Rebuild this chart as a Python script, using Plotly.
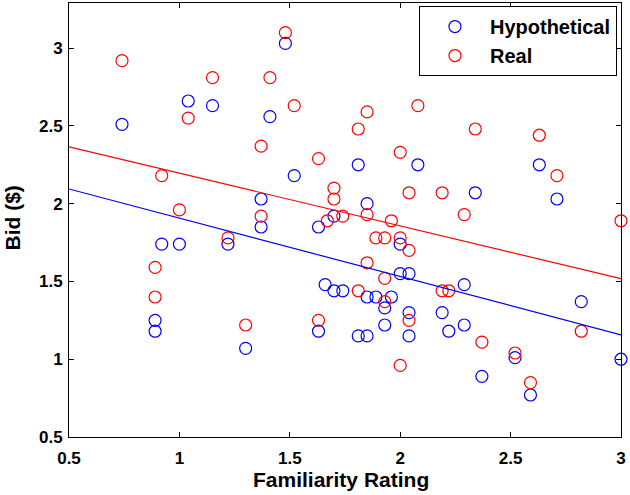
import numpy as np
import plotly.graph_objects as go

# Hypothetical bids
hyp_x = [0.74, 0.89, 0.89, 0.92, 1.00, 1.04, 1.15, 1.22, 1.30, 1.37, 1.37, 1.41, 1.48, 1.52,
         1.63, 1.63, 1.66, 1.70, 1.70, 1.74, 1.81, 1.81, 1.85, 1.85, 1.85, 1.89, 1.93, 1.93,
         1.96, 2.00, 2.00, 2.04, 2.04, 2.04, 2.08, 2.19, 2.22, 2.29, 2.29, 2.34, 2.37, 2.52,
         2.59, 2.63, 2.71, 2.82, 3.00]
hyp_y = [2.51, 1.25, 1.18, 1.74, 1.74, 2.66, 2.63, 1.74, 1.07, 2.03, 1.85, 2.56, 3.03, 2.18,
         1.85, 1.18, 1.48, 1.92, 1.44, 1.44, 2.25, 1.15, 2.00, 1.40, 1.15, 1.40, 1.33, 1.22,
         1.40, 1.74, 1.55, 1.55, 1.30, 1.15, 2.25, 1.30, 1.18, 1.48, 1.22, 2.07, 0.89, 1.01,
         0.77, 2.25, 2.03, 1.37, 1.00]

# Real bids
real_x = [0.74, 0.89, 0.89, 0.92, 1.00, 1.04, 1.15, 1.22, 1.30, 1.37, 1.37, 1.41, 1.48, 1.52,
          1.63, 1.63, 1.67, 1.70, 1.70, 1.74, 1.81, 1.81, 1.85, 1.85, 1.85, 1.89, 1.93, 1.93,
          1.93, 1.96, 2.00, 2.00, 2.00, 2.04, 2.04, 2.04, 2.08, 2.19, 2.22, 2.19, 2.29, 2.34,
          2.37, 2.52, 2.59, 2.63, 2.71, 2.82, 3.00]
real_y = [2.92, 1.59, 1.40, 2.18, 1.96, 2.55, 2.81, 1.78, 1.22, 2.37, 1.92, 2.81, 3.10, 2.63,
          2.29, 1.25, 1.89, 2.10, 2.03, 1.92, 2.48, 1.44, 2.59, 1.93, 1.62, 1.78, 1.78, 1.52,
          1.37, 1.89, 2.33, 1.78, 0.96, 2.07, 1.70, 1.25, 2.63, 2.07, 1.44, 1.44, 1.93, 2.48,
          1.11, 1.04, 0.85, 2.44, 2.18, 1.18, 1.89]

# Least-squares fit lines (slope, intercept)
hyp_fit = (-0.375, 2.282)
real_fit = (-0.339, 2.535)
fit_x = [0.5, 3.0]

x_ticks = [0.5, 1, 1.5, 2, 2.5, 3]
x_ticklabels = ["0.5", "1", "1.5", "2", "2.5", "3"]
y_ticks = [0.5, 1, 1.5, 2, 2.5, 3]
y_ticklabels = ["0.5", "1", "1.5", "2", "2.5", "3"]

BLUE = "#0000FF"
RED = "#FF0000"
FONT = "Liberation Sans, Arial, sans-serif"

fig = go.Figure()
fig.add_trace(go.Scatter(x=hyp_x, y=hyp_y, mode="markers", name="Hypothetical",
                         cliponaxis=False,
                         marker=dict(symbol="circle-open", size=12, color=BLUE,
                                     line=dict(width=1.2, color=BLUE))))
fig.add_trace(go.Scatter(x=real_x, y=real_y, mode="markers", name="Real",
                         cliponaxis=False,
                         marker=dict(symbol="circle-open", size=12, color=RED,
                                     line=dict(width=1.2, color=RED))))
fx = np.array(fit_x)
fig.add_trace(go.Scatter(x=fx, y=hyp_fit[0] * fx + hyp_fit[1], mode="lines",
                         line=dict(color=BLUE, width=1.2), showlegend=False, hoverinfo="skip"))
fig.add_trace(go.Scatter(x=fx, y=real_fit[0] * fx + real_fit[1], mode="lines",
                         line=dict(color=RED, width=1.2), showlegend=False, hoverinfo="skip"))

tickfont = dict(family=FONT, size=17, color="black", weight="bold")
axis_common = dict(showline=True, linecolor="black", linewidth=1, mirror="ticks",
                   ticks="inside", ticklen=5, tickcolor="black", showgrid=False,
                   zeroline=False, tickfont=tickfont)

fig.update_xaxes(range=[0.5, 3.0], tickvals=x_ticks, ticktext=x_ticklabels,
                 ticklabelstandoff=6, **axis_common)
fig.update_yaxes(range=[0.5, 3.29], tickvals=y_ticks, ticktext=y_ticklabels,
                 ticklabelstandoff=2, **axis_common)

fig.update_layout(
    width=630, height=495,
    margin=dict(l=69, r=9, t=3, b=58),
    plot_bgcolor="white", paper_bgcolor="white",
    font=dict(family=FONT, color="black"),
    legend=dict(x=0.634, y=0.993, xanchor="left", yanchor="top",
                bgcolor="white", bordercolor="black", borderwidth=1,
                font=dict(family=FONT, size=20, color="black", weight="bold"),
                itemwidth=60, tracegroupgap=0),
    annotations=[
        dict(text="Familiarity Rating", x=0.493, y=-0.099, xref="paper", yref="paper",
             xanchor="center", yanchor="middle", showarrow=False,
             font=dict(family=FONT, size=21, color="black", weight="bold")),
        dict(text="Bid ($)", x=-0.102, y=0.505, xref="paper", yref="paper",
             xanchor="center", yanchor="middle", textangle=-90, showarrow=False,
             font=dict(family=FONT, size=21, color="black", weight="bold")),
    ],
)

fig.write_html("out.html", config={"displayModeBar": False},
               post_script="document.body.style.margin='0';document.body.style.overflow='hidden';")
